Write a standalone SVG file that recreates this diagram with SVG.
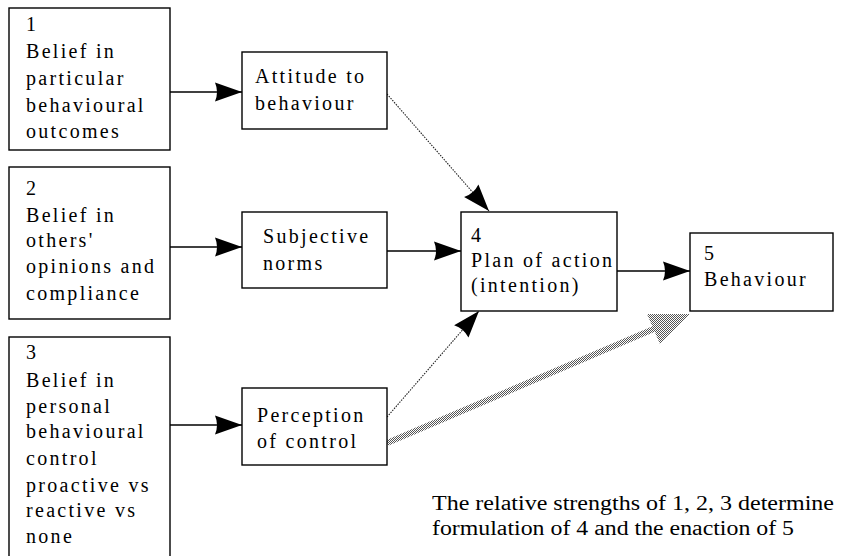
<svg xmlns="http://www.w3.org/2000/svg" width="843" height="556" viewBox="0 0 843 556">
<style>
.box{fill:#fff;stroke:#000;stroke-width:1.4}
text{font-family:"Liberation Serif","DejaVu Serif",serif;font-size:20px;letter-spacing:2.3px;fill:#000}
#note text{letter-spacing:0}
.solid{stroke:#000;stroke-width:1.5;fill:none}
.dot{stroke:#222;stroke-width:1.1;stroke-dasharray:1.5 1.2;fill:none}
</style>
<defs>
<marker id="ah" markerUnits="userSpaceOnUse" markerWidth="30" markerHeight="22" viewBox="-28 -11 30 22" refX="0" refY="0" orient="auto">
<path d="M0,0 L-27,-9.5 Q-23,0 -27,9.5 Z" fill="#000"/>
</marker>
<pattern id="dither" patternUnits="userSpaceOnUse" width="2" height="2">
<rect width="2" height="2" fill="#fff"/>
<rect x="0" y="0" width="1" height="1" fill="#555"/>
<rect x="1" y="1" width="1" height="1" fill="#555"/>
</pattern>
</defs>
<rect width="843" height="556" fill="#fff"/>

<g id="connectors">
<line class="solid" x1="170" y1="92" x2="242" y2="92" marker-end="url(#ah)"/>
<line class="solid" x1="170" y1="247" x2="242" y2="247" marker-end="url(#ah)"/>
<line class="solid" x1="170" y1="425" x2="242" y2="425" marker-end="url(#ah)"/>
<line class="solid" x1="387" y1="251" x2="461" y2="251" marker-end="url(#ah)"/>
<line class="solid" x1="617" y1="271" x2="690" y2="271" marker-end="url(#ah)"/>
<line class="dot" x1="387" y1="94" x2="489" y2="211" marker-end="url(#ah)"/>
<line class="dot" x1="387" y1="417" x2="479" y2="311" marker-end="url(#ah)"/>
<line x1="387" y1="443" x2="656" y2="328" stroke="url(#dither)" stroke-width="6"/>
<polygon points="690,314 647,314 660,344" fill="url(#dither)"/>
</g>

<g id="n1">
<rect class="box" x="9" y="8" width="161" height="142"/>
<text x="26" y="31">1</text>
<text x="26" y="58">Belief in</text>
<text x="26" y="85">particular</text>
<text x="26" y="112">behavioural</text>
<text x="26" y="138">outcomes</text>
</g>
<g id="n2">
<rect class="box" x="9" y="167" width="161" height="152"/>
<text x="26" y="195">2</text>
<text x="26" y="222">Belief in</text>
<text x="26" y="247">others'</text>
<text x="26" y="273">opinions and</text>
<text x="26" y="300">compliance</text>
</g>
<g id="n3">
<rect class="box" x="9" y="337" width="161" height="225"/>
<text x="26" y="359">3</text>
<text x="26" y="387">Belief in</text>
<text x="26" y="413">personal</text>
<text x="26" y="438">behavioural</text>
<text x="26" y="465">control</text>
<text x="26" y="492">proactive vs</text>
<text x="26" y="517">reactive vs</text>
<text x="26" y="543">none</text>
</g>
<g id="attitude">
<rect class="box" x="242" y="52" width="145" height="77"/>
<text x="255" y="83">Attitude to</text>
<text x="255" y="110">behaviour</text>
</g>
<g id="subjective">
<rect class="box" x="242" y="212" width="145" height="76"/>
<text x="263" y="243">Subjective</text>
<text x="263" y="270">norms</text>
</g>
<g id="perception">
<rect class="box" x="242" y="388" width="145" height="77"/>
<text x="257" y="422">Perception</text>
<text x="257" y="448">of control</text>
</g>
<g id="n4">
<rect class="box" x="461" y="212" width="156" height="99"/>
<text x="471" y="242">4</text>
<text x="471" y="267">Plan of action</text>
<text x="471" y="292">(intention)</text>
</g>
<g id="n5">
<rect class="box" x="690" y="233" width="143" height="78"/>
<text x="704" y="260">5</text>
<text x="704" y="286">Behaviour</text>
</g>
<g id="note">
<text x="432" y="510" textLength="402" lengthAdjust="spacingAndGlyphs">The relative strengths of 1, 2, 3 determine</text>
<text x="432" y="535" textLength="362" lengthAdjust="spacingAndGlyphs">formulation of 4 and the enaction of 5</text>
</g>
</svg>
